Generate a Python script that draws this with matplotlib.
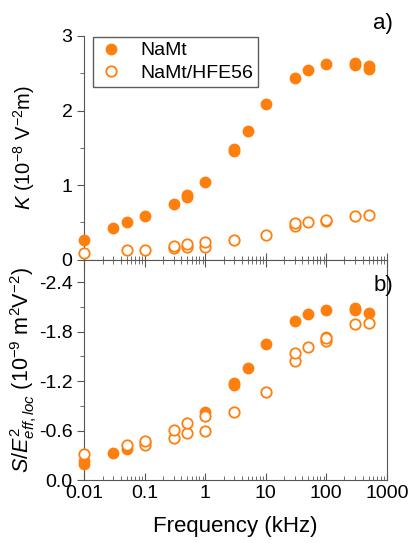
import numpy as np
import matplotlib
matplotlib.use('Agg')
import matplotlib.pyplot as plt
import matplotlib.ticker as mtp_ticker

plt.rcParams['font.family'] = ['Liberation Sans', 'DejaVu Sans']
plt.rcParams['mathtext.fontset'] = 'custom'
plt.rcParams['mathtext.rm'] = 'Liberation Sans'
plt.rcParams['mathtext.it'] = 'Liberation Sans:italic'
plt.rcParams['axes.unicode_minus'] = False

#### DATA ####
# panel a) K, NaMt (filled)
freq_k_namt = [0.01, 0.03, 0.05, 0.1, 0.3, 0.5, 0.5, 1, 3, 3, 5, 10, 30, 50, 100, 300, 300, 500, 500]
k_namt = [0.26, 0.42, 0.50, 0.59, 0.75, 0.84, 0.87, 1.04, 1.46, 1.49, 1.72, 2.09, 2.44, 2.54, 2.62, 2.61, 2.64, 2.56, 2.59]
# panel a) K, NaMt/HFE56 (open)
freq_k_hfe = [0.01, 0.05, 0.1, 0.3, 0.3, 0.5, 0.5, 1, 1, 3, 10, 30, 30, 50, 100, 100, 300, 500]
k_hfe = [0.09, 0.13, 0.13, 0.16, 0.19, 0.17, 0.21, 0.17, 0.24, 0.26, 0.33, 0.45, 0.49, 0.50, 0.52, 0.54, 0.59, 0.60]

# panel b) S/E^2, NaMt (filled)
freq_s_namt = [0.01, 0.01, 0.03, 0.05, 0.1, 1, 3, 3, 5, 10, 30, 50, 100, 100, 300, 300, 500]
s_namt = [-0.19, -0.23, -0.33, -0.38, -0.46, -0.83, -1.15, -1.18, -1.36, -1.65, -1.93, -2.01, -2.06, -1.74, -2.06, -2.08, -2.03]
# panel b) S/E^2, NaMt/HFE56 (open)
freq_s_hfe = [0.01, 0.05, 0.1, 0.1, 0.3, 0.3, 0.5, 0.5, 1, 1, 3, 10, 30, 30, 50, 100, 100, 300, 500]
s_hfe = [-0.32, -0.43, -0.42, -0.47, -0.51, -0.61, -0.57, -0.69, -0.60, -0.78, -0.83, -1.07, -1.44, -1.54, -1.61, -1.68, -1.72, -1.89, -1.90]

x_ticks = [0.01, 0.1, 1, 10, 100, 1000]
x_ticklabels = ['0.01', '0.1', '1', '10', '100', '1000']

orange = '#FF7F0E'
ms = 7.5

#### FIGURE ####
fig = plt.figure(figsize=(4.08, 5.43), dpi=100)
ax1 = fig.add_axes([0.2066, 0.5215, 0.7414, 0.4125])
ax2 = fig.add_axes([0.2066, 0.116, 0.7414, 0.4055])

# panel a
ax1.plot(freq_k_namt, k_namt, 'o', color=orange, mec=orange, ms=ms, label='NaMt', clip_on=False, zorder=3)
ax1.plot(freq_k_hfe, k_hfe, 'o', color=orange, mfc='white', mec=orange, mew=1.3, ms=ms,
         label='NaMt/HFE56', clip_on=False, zorder=3)
ax1.set_xscale('log')
ax1.set_xlim(0.01, 1000)
ax1.set_ylim(0, 3)
ax1.set_yticks([0, 1, 2, 3])
ax1.yaxis.set_minor_locator(mtp_ticker.MultipleLocator(0.5))
ax1.spines['top'].set_visible(False)
ax1.spines['right'].set_visible(False)
ax1.tick_params(axis='x', which='both', direction='in', labelbottom=False)
ax1.tick_params(axis='x', which='major', length=5)
ax1.tick_params(axis='x', which='minor', length=3)
ax1.tick_params(axis='y', which='major', direction='out', length=5, labelsize=14)
ax1.tick_params(axis='y', which='minor', direction='out', length=3)
ax1.set_ylabel('$\\mathit{K}$ (10$^{-8}$ V$^{-2}$m)', fontsize=14.5)
ax1.yaxis.set_label_coords(-0.155, 0.5)
ax1.legend(loc='upper left', bbox_to_anchor=(93 / 408, 1 - 37 / 543), bbox_transform=fig.transFigure,
           fontsize=14, frameon=True, fancybox=False, edgecolor='#333333', handletextpad=0.9,
           borderpad=0.25, labelspacing=0.25, handlelength=1.3, borderaxespad=0)
fig.text(393 / 408, 1 - 23 / 543, 'a)', fontsize=16, ha='right', va='center')

# panel b
ax2.plot(freq_s_namt, s_namt, 'o', color=orange, mec=orange, ms=ms, clip_on=False, zorder=3)
ax2.plot(freq_s_hfe, s_hfe, 'o', color=orange, mfc='white', mec=orange, mew=1.3, ms=ms,
         clip_on=False, zorder=3)
ax2.set_xscale('log')
ax2.set_xlim(0.01, 1000)
ax2.set_ylim(0, -2.67)
ax2.set_yticks([0.0, -0.6, -1.2, -1.8, -2.4])
ax2.yaxis.set_major_formatter(mtp_ticker.FormatStrFormatter('%.1f'))
ax2.yaxis.set_minor_locator(mtp_ticker.MultipleLocator(0.3))
ax2.set_xticks(x_ticks)
ax2.set_xticklabels(x_ticklabels)
ax2.xaxis.set_minor_locator(mtp_ticker.LogLocator(base=10, subs=np.arange(2, 10)))
ax2.xaxis.set_minor_formatter(mtp_ticker.NullFormatter())
ax2.tick_params(axis='x', which='both', direction='in', top=True, labelsize=14)
ax2.tick_params(axis='x', which='major', length=5)
ax2.tick_params(axis='x', which='minor', length=3)
ax2.tick_params(axis='y', which='major', direction='out', length=5, labelsize=14)
ax2.tick_params(axis='y', which='minor', direction='out', length=3)
ax2.set_ylabel('$\\mathit{S/E}^{2}_{\\mathit{eff,loc}}$ (10$^{-9}$ m$^{2}$V$^{-2}$)', fontsize=15.5)
ax2.yaxis.set_label_coords(-0.15, 0.5)
ax2.set_xlabel('Frequency (kHz)', fontsize=16, labelpad=10)
fig.text(393 / 408, 1 - 285 / 543, 'b)', fontsize=16, ha='right', va='center')

for ax in (ax1, ax2):
    for s in ax.spines.values():
        s.set_color('#555555')
    ax.tick_params(which='both', color='#555555')

plt.savefig('out.png', dpi=100)
